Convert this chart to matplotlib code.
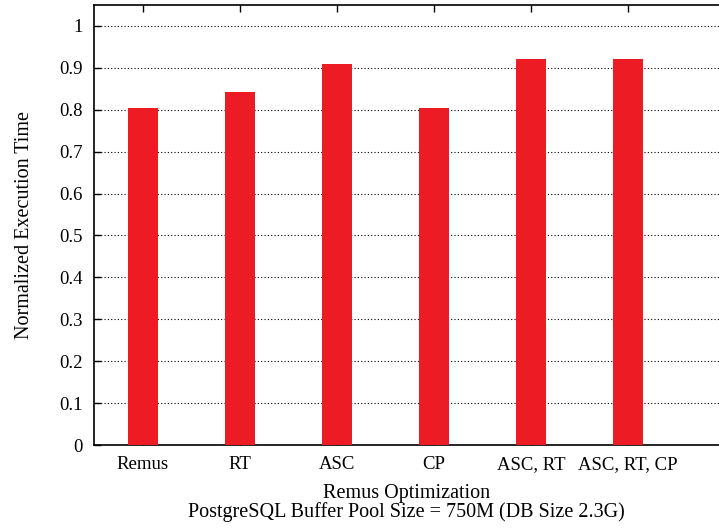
import numpy as np
import matplotlib.pyplot as plt

categories = ["Remus", "RT", "ASC", "CP", "ASC, RT", "ASC, RT, CP"]
exec_time = [0.805, 0.842, 0.910, 0.805, 0.921, 0.921]
yticks = [0, 0.1, 0.2, 0.3, 0.4, 0.5, 0.6, 0.7, 0.8, 0.9, 1]

plt.rcParams['font.family'] = ['Liberation Serif', 'DejaVu Serif']
plt.rcParams['font.size'] = 13.5

fig = plt.figure(figsize=(7.19, 5.29), dpi=100)
ax = fig.add_axes([94 / 719, 1 - 445 / 529, (719 - 94) / 719, (445 - 5) / 529])

x = np.arange(len(categories))
ax.bar(x, exec_time, width=0.31, color='#ED1C24', zorder=3)

ax.set_xlim(-0.505, 5.94)
ax.set_ylim(0, 1.05)
ax.set_yticks(yticks)
ax.set_yticklabels([f"{v:g}" for v in yticks])
ax.set_xticks(x)
ax.set_xticklabels(categories)
ax.yaxis.grid(True, linestyle=(0, (1, 2)), color='black', linewidth=0.8, zorder=1)
ax.tick_params(axis='both', direction='in', length=5, width=1, top=True, right=False)
ax.tick_params(axis='x', pad=8)
ax.tick_params(axis='y', pad=8)
for s in ax.spines.values():
    s.set_linewidth(1.2)
ax.spines['right'].set_visible(False)

ax.set_ylabel("Normalized Execution Time", fontsize=14.5, labelpad=18)
ax.set_xlabel("Remus Optimization\nPostgreSQL Buffer Pool Size = 750M (DB Size 2.3G)",
              fontsize=14.5, labelpad=8, linespacing=0.95)

fig.savefig("out.png", dpi=100)
